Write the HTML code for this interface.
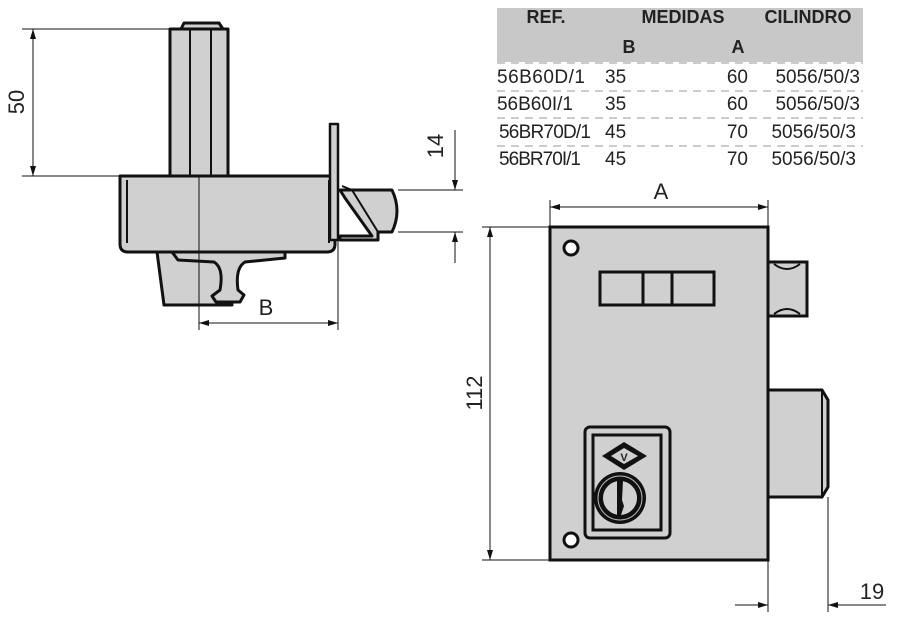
<!DOCTYPE html>
<html><head><meta charset="utf-8"><style>
body{margin:0;background:#fff;width:900px;height:631px;overflow:hidden}
svg{display:block}
text{font-family:"Liberation Sans",sans-serif;fill:#222}
</style></head><body>
<svg width="900" height="631" viewBox="0 0 900 631" xmlns="http://www.w3.org/2000/svg">
<defs>
<marker id="a" viewBox="0 0 10 10" refX="10" refY="5" markerWidth="10" markerHeight="10" orient="auto-start-reverse" markerUnits="userSpaceOnUse"><path d="M0,2 L10,5 L0,8z" fill="#111"/></marker>
</defs>
<!-- table -->
<rect x="497" y="8" width="366" height="54" fill="#c8c8c8"/>
<g font-weight="bold" font-size="18">
<text x="546" y="23" text-anchor="middle">REF.</text>
<text x="683" y="23" text-anchor="middle">MEDIDAS</text>
<text x="808" y="23" text-anchor="middle">CILINDRO</text>
<text x="629" y="53" text-anchor="middle">B</text>
<text x="738" y="53" text-anchor="middle">A</text>
</g>
<g font-size="19">
<text x="497" y="83" textLength="88">56B60D/1</text><text x="605" y="83">35</text><text x="748" y="83" text-anchor="end">60</text><text x="860" y="83" text-anchor="end">5056/50/3</text>
<text x="497" y="110" textLength="76">56B60I/1</text><text x="605" y="110">35</text><text x="748" y="110" text-anchor="end">60</text><text x="860" y="110" text-anchor="end">5056/50/3</text>
<text x="499" y="138" textLength="92">56BR70D/1</text><text x="605" y="138">45</text><text x="748" y="138" text-anchor="end">70</text><text x="856" y="138" text-anchor="end">5056/50/3</text>
<text x="499" y="165" textLength="82">56BR70I/1</text><text x="605" y="165">45</text><text x="748" y="165" text-anchor="end">70</text><text x="856" y="165" text-anchor="end">5056/50/3</text>
</g>
<g stroke="#999" stroke-dasharray="8,6" stroke-width="1">
<line x1="497" y1="63" x2="863" y2="63"/><line x1="497" y1="91" x2="863" y2="91"/>
<line x1="497" y1="118" x2="863" y2="118"/><line x1="497" y1="146" x2="863" y2="146"/>
</g>

<!-- side view -->
<g stroke="#111" stroke-width="3" fill="#d0d0d0" stroke-linejoin="round">
<path d="M181,29 L184,23 L219,23 L223,29z"/>
<rect x="170" y="29" width="58" height="147"/>
<line x1="190" y1="29" x2="190" y2="176" stroke-width="2"/>
<line x1="211" y1="29" x2="211" y2="176" stroke-width="2"/>
<path d="M157,252 L232,252 L232,305 L164,305z"/>
<path d="M172,252 L285,252 L285,258 L245,262 Q235,268 238,290 L244,295 L240,302 L216,302 L212,296 L220,290 Q224,268 214,262 L178,260z"/>
<path d="M120,176 L335,176 L335,244 Q335,252 327,252 L128,252 Q120,252 120,244z"/>
<line x1="127" y1="180" x2="127" y2="243" stroke-width="2"/>
<line x1="329" y1="180" x2="329" y2="243" stroke-width="2"/>
<rect x="330" y="124" width="8" height="116" stroke-width="2.5"/>
<path d="M340,190 L392,190 Q402,211 392,232 L378,232 L378,240 L340,240 L340,236 L372,236 L345,198z"/>
<path d="M342,186 L352,190 L378,232" fill="none" stroke-width="2"/>
</g>
<g stroke="#111" stroke-width="1" fill="none">
<line x1="199" y1="176" x2="199" y2="330"/>
<line x1="338" y1="240" x2="338" y2="330"/>
<line x1="199" y1="323" x2="338" y2="323" marker-start="url(#a)" marker-end="url(#a)"/>
<line x1="22" y1="29" x2="170" y2="29"/>
<line x1="22" y1="176" x2="120" y2="176"/>
<line x1="33" y1="29" x2="33" y2="176" marker-start="url(#a)" marker-end="url(#a)"/>
<line x1="398" y1="190" x2="463" y2="190"/>
<line x1="398" y1="232" x2="463" y2="232"/>
<line x1="455" y1="130" x2="455" y2="190" marker-end="url(#a)"/>
<line x1="455" y1="263" x2="455" y2="232" marker-end="url(#a)"/>
</g>
<text x="266" y="315" font-size="22" text-anchor="middle">B</text>
<text transform="translate(24,102) rotate(-90)" font-size="22" text-anchor="middle">50</text>
<text transform="translate(443,146) rotate(-90)" font-size="22" text-anchor="middle">14</text>

<!-- front view -->
<g stroke="#111" stroke-width="3" fill="#d0d0d0">
<rect x="768" y="262" width="39" height="54"/>
<path d="M768,390 L822,390 L828,400 L828,487 L822,497 L768,497z"/>
<line x1="822" y1="390" x2="822" y2="497" stroke-width="2"/>
<rect x="550" y="227" width="218" height="333"/>
<rect x="600" y="272" width="114" height="33"/>
<line x1="643" y1="272" x2="643" y2="305"/>
<line x1="672" y1="272" x2="672" y2="305"/>
<rect x="585" y="427" width="85" height="111" rx="5"/>
<rect x="593" y="435" width="68" height="95"/>
<circle cx="571" cy="248" r="7" fill="#fff"/>
<circle cx="571" cy="540" r="7" fill="#fff"/>
</g>
<path d="M774,264 Q787,274 800,264 M774,314 Q787,304 800,314" stroke="#111" stroke-width="2" fill="none"/>
<path d="M602,456 L624,442 L647,456 L624,470z" fill="#111"/>
<path d="M611,456 L624,448 L638,456 L624,464z" fill="#d0d0d0"/>
<text x="624" y="461" font-size="11" text-anchor="middle" font-weight="bold">V</text>
<circle cx="620" cy="498" r="26" fill="#111"/>
<circle cx="620" cy="498" r="22" fill="none" stroke="#bbb" stroke-width="1"/>
<circle cx="620" cy="498" r="18" fill="#d0d0d0" stroke="#111" stroke-width="2"/>
<path d="M617,480 L623,480 L622,500 L624,506 L621,515 L617,515z" fill="#111"/>
<g stroke="#111" stroke-width="1" fill="none">
<line x1="550" y1="200" x2="550" y2="227"/>
<line x1="768" y1="200" x2="768" y2="227"/>
<line x1="550" y1="207" x2="768" y2="207" marker-start="url(#a)" marker-end="url(#a)"/>
<line x1="482" y1="227" x2="550" y2="227"/>
<line x1="482" y1="560" x2="550" y2="560"/>
<line x1="490" y1="227" x2="490" y2="560" marker-start="url(#a)" marker-end="url(#a)"/>
<line x1="768" y1="560" x2="768" y2="612"/>
<line x1="828" y1="497" x2="828" y2="612"/>
<line x1="735" y1="605" x2="768" y2="605" marker-end="url(#a)"/>
<line x1="886" y1="605" x2="828" y2="605" marker-end="url(#a)"/>
</g>
<text x="661" y="199" font-size="22" text-anchor="middle">A</text>
<text transform="translate(482,393) rotate(-90)" font-size="22" text-anchor="middle">112</text>
<text x="872" y="599" font-size="22" text-anchor="middle">19</text>
</svg>
</body></html>
